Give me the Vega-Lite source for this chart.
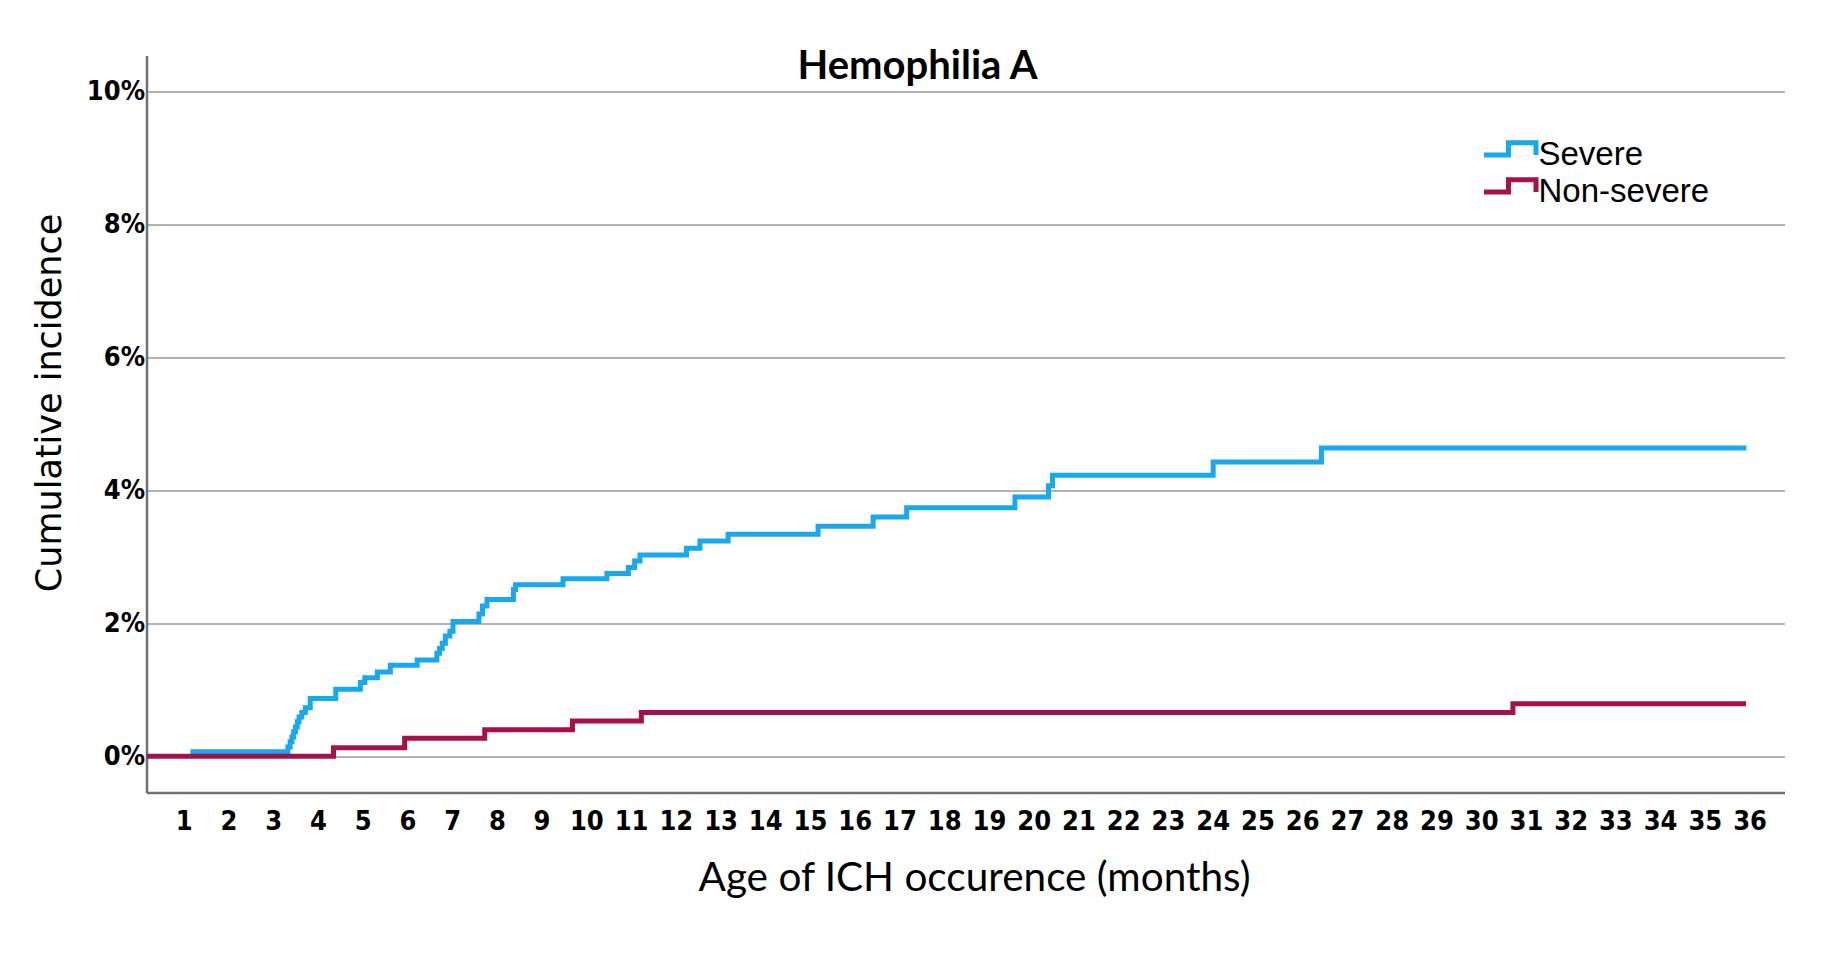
{
  "$schema": "https://vega.github.io/schema/vega-lite/v6.json",
  "width": 1638,
  "height": 737,
  "autosize": {"type": "none"},
  "padding": {"left": 146.5, "top": 55.5, "right": 55.5, "bottom": 171.5},
  "background": "white",
  "title": {
    "text": "Hemophilia A",
    "font": "Lato",
    "fontWeight": "bold",
    "fontSize": 40,
    "color": "#000000",
    "anchor": "middle",
    "dx": -48,
    "offset": -63,
    "baseline": "alphabetic"
  },
  "config": {
    "view": {"stroke": null},
    "axis": {
      "gridColor": "#b3b3b3",
      "gridWidth": 2,
      "domainColor": "#707070",
      "domainWidth": 2.5,
      "ticks": false,
      "labelColor": "#000000",
      "titleColor": "#000000",
      "labelFont": "Liberation Sans Narrow, DejaVu Sans Condensed, Lato, sans-serif",
      "labelFontWeight": "bold",
      "labelFontSize": 27
    }
  },
  "data": {
    "values": [
      {"group": "Severe", "month": 1.15, "pct": 0.07},
      {"group": "Severe", "month": 3.33, "pct": 0.14},
      {"group": "Severe", "month": 3.38, "pct": 0.22},
      {"group": "Severe", "month": 3.42, "pct": 0.29},
      {"group": "Severe", "month": 3.46, "pct": 0.37},
      {"group": "Severe", "month": 3.5, "pct": 0.44},
      {"group": "Severe", "month": 3.54, "pct": 0.52},
      {"group": "Severe", "month": 3.58, "pct": 0.59},
      {"group": "Severe", "month": 3.64, "pct": 0.66},
      {"group": "Severe", "month": 3.72, "pct": 0.73},
      {"group": "Severe", "month": 3.83, "pct": 0.87},
      {"group": "Severe", "month": 4.4, "pct": 1.01},
      {"group": "Severe", "month": 4.95, "pct": 1.11},
      {"group": "Severe", "month": 5.05, "pct": 1.18},
      {"group": "Severe", "month": 5.33, "pct": 1.27},
      {"group": "Severe", "month": 5.62, "pct": 1.37},
      {"group": "Severe", "month": 6.22, "pct": 1.45},
      {"group": "Severe", "month": 6.66, "pct": 1.55},
      {"group": "Severe", "month": 6.72, "pct": 1.62},
      {"group": "Severe", "month": 6.78, "pct": 1.7},
      {"group": "Severe", "month": 6.85, "pct": 1.81},
      {"group": "Severe", "month": 6.95, "pct": 1.88},
      {"group": "Severe", "month": 7.02, "pct": 2.03},
      {"group": "Severe", "month": 7.6, "pct": 2.14},
      {"group": "Severe", "month": 7.68, "pct": 2.26},
      {"group": "Severe", "month": 7.78, "pct": 2.36},
      {"group": "Severe", "month": 8.37, "pct": 2.51},
      {"group": "Severe", "month": 8.42, "pct": 2.58},
      {"group": "Severe", "month": 9.48, "pct": 2.67},
      {"group": "Severe", "month": 10.46, "pct": 2.75},
      {"group": "Severe", "month": 10.94, "pct": 2.84},
      {"group": "Severe", "month": 11.08, "pct": 2.94},
      {"group": "Severe", "month": 11.2, "pct": 3.03},
      {"group": "Severe", "month": 12.24, "pct": 3.13},
      {"group": "Severe", "month": 12.54, "pct": 3.24},
      {"group": "Severe", "month": 13.17, "pct": 3.34},
      {"group": "Severe", "month": 15.18, "pct": 3.46},
      {"group": "Severe", "month": 16.41, "pct": 3.6},
      {"group": "Severe", "month": 17.16, "pct": 3.74},
      {"group": "Severe", "month": 19.58, "pct": 3.9},
      {"group": "Severe", "month": 20.33, "pct": 4.07},
      {"group": "Severe", "month": 20.42, "pct": 4.23},
      {"group": "Severe", "month": 24.01, "pct": 4.43},
      {"group": "Severe", "month": 26.43, "pct": 4.64},
      {"group": "Severe", "month": 35.93, "pct": 4.64},
      {"group": "Non-severe", "month": 0.17, "pct": 0},
      {"group": "Non-severe", "month": 4.35, "pct": 0.13},
      {"group": "Non-severe", "month": 5.94, "pct": 0.27},
      {"group": "Non-severe", "month": 7.73, "pct": 0.4},
      {"group": "Non-severe", "month": 9.69, "pct": 0.53},
      {"group": "Non-severe", "month": 11.23, "pct": 0.66},
      {"group": "Non-severe", "month": 30.71, "pct": 0.79},
      {"group": "Non-severe", "month": 35.92, "pct": 0.79}
    ]
  },
  "mark": {"type": "line", "interpolate": "step-after", "strokeWidth": 5, "clip": true},
  "encoding": {
    "x": {
      "field": "month",
      "type": "quantitative",
      "scale": {"domain": [0.17, 36.78], "nice": false, "zero": false},
      "axis": {
        "values": [1,2,3,4,5,6,7,8,9,10,11,12,13,14,15,16,17,18,19,20,21,22,23,24,25,26,27,28,29,30,31,32,33,34,35,36],
        "grid": false,
        "labelPadding": 16,
        "labelFlush": false,
        "labelOverlap": false,
        "title": "Age of ICH occurence (months)",
        "titleFont": "Lato",
        "titleFontWeight": "normal",
        "titleFontSize": 40.5,
        "titleX": 827.5,
        "titleY": 98,
        "titleAlign": "center",
        "titleBaseline": "alphabetic"
      }
    },
    "y": {
      "field": "pct",
      "type": "quantitative",
      "scale": {"domain": [-0.545, 10.545], "nice": false, "zero": false},
      "axis": {
        "values": [0, 2, 4, 6, 8, 10],
        "labelExpr": "datum.value + '%'",
        "grid": true,
        "labelPadding": 2,
        "labelFlush": false,
        "title": "Cumulative incidence",
        "titleFont": "DejaVu Sans",
        "titleFontWeight": "normal",
        "titleFontSize": 35,
        "titleAngle": -90,
        "titleX": -86.5,
        "titleY": 347,
        "titleAlign": "center",
        "titleBaseline": "alphabetic"
      }
    },
    "color": {
      "field": "group",
      "type": "nominal",
      "scale": {"domain": ["Severe", "Non-severe"], "range": ["#17a8ee", "#a5124b"]},
      "legend": {
        "title": null,
        "orient": "none",
        "legendX": 1344,
        "legendY": 80,
        "padding": 0,
        "rowPadding": -7,
        "symbolType": "M-1.53,0L-0.09,0L-0.09,-0.72L1.53,-0.72L1.53,0",
        "symbolSize": 1156,
        "symbolStrokeWidth": 5,
        "labelOffset": 9,
        "labelFont": "Liberation Sans",
        "labelFontSize": 33,
        "labelColor": "#000000",
        "labelLimit": 400
      }
    }
  }
}
